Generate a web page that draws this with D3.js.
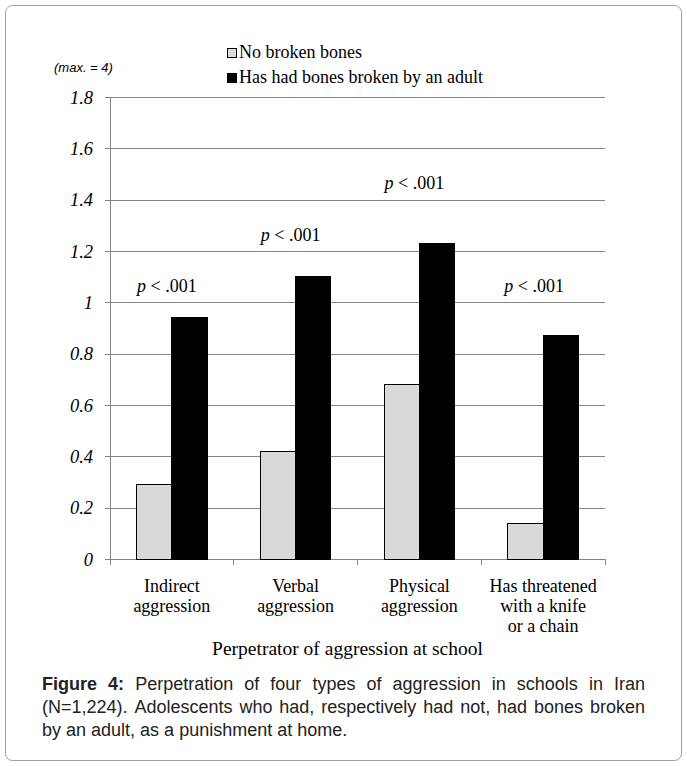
<!DOCTYPE html>
<html>
<head>
<meta charset="utf-8">
<script src="https://cdn.jsdelivr.net/npm/d3@7"></script>
<style>
  html, body { margin: 0; padding: 0; background: #fff; }
  svg { display: block; }
</style>
</head>
<body>
<svg id="chart" width="687" height="766"></svg>
<script>
// ---- data ----
const categories = [
  ["Indirect", "aggression"],
  ["Verbal", "aggression"],
  ["Physical", "aggression"],
  ["Has threatened", "with a knife", "or a chain"]
];
const seriesNames = ["No broken bones", "Has had bones broken by an adult"];
const noBroken = [0.29, 0.42, 0.68, 0.14];
const broken = [0.94, 1.10, 1.23, 0.87];
const yTicks = [0, 0.2, 0.4, 0.6, 0.8, 1, 1.2, 1.4, 1.6, 1.8];
const yTickLabels = ["0", "0.2", "0.4", "0.6", "0.8", "1", "1.2", "1.4", "1.6", "1.8"];
const pLabels = ["p < .001", "p < .001", "p < .001", "p < .001"];
const pLabelLevel = [1.04, 1.24, 1.44, 1.04];
const xTitle = "Perpetrator of aggression at school";
const yNote = "(max. = 4)";
const captionBold = "Figure 4:";
const captionText = "Perpetration of four types of aggression in schools in Iran (N=1,224). Adolescents who had, respectively had not, had bones broken by an adult, as a punishment at home.";

// ---- layout ----
const svg = d3.select("#chart");
const W = 687, H = 766;
const plot = { left: 110, right: 605, top: 97, bottom: 559 };
const serif = "'Liberation Serif', 'Times New Roman', serif";
const sans = "'Liberation Sans', Arial, sans-serif";
const gridColor = "#868686";

// outer frame
svg.append("rect")
  .attr("x", 5.5).attr("y", 5.5)
  .attr("width", 676).attr("height", 755)
  .attr("rx", 7).attr("ry", 7)
  .attr("fill", "#fff").attr("stroke", "#a0a0a0").attr("stroke-width", 1);

const x = d3.scaleBand().domain(d3.range(categories.length))
  .range([plot.left, plot.right]).paddingInner(0).paddingOuter(0);
const y = d3.scaleLinear().domain([0, 1.8]).range([plot.bottom, plot.top]);
const barW = 35.3;

// gridlines + y axis ticks
const yAxis = d3.axisLeft(y).tickValues(yTicks)
  .tickSize(-(plot.right - plot.left))
  .tickFormat((d, i) => yTickLabels[i]);
const gy = svg.append("g").attr("transform", `translate(${plot.left},0)`).call(yAxis);
gy.select(".domain").remove();
gy.selectAll(".tick line")
  .attr("x1", -5)
  .attr("stroke", gridColor).attr("stroke-width", 1)
  .attr("shape-rendering", "crispEdges");
gy.selectAll(".tick text")
  .attr("x", -17)
  .attr("dy", "0.34em")
  .attr("font-family", serif).attr("font-style", "italic")
  .attr("font-size", 18.5).attr("fill", "#000");

// y axis line
svg.append("line")
  .attr("x1", plot.left).attr("x2", plot.left)
  .attr("y1", plot.top).attr("y2", plot.bottom + 6)
  .attr("stroke", gridColor).attr("shape-rendering", "crispEdges");

// category boundary ticks
svg.append("g").selectAll("line")
  .data(d3.range(categories.length + 1))
  .join("line")
  .attr("x1", i => plot.left + i * x.bandwidth())
  .attr("x2", i => plot.left + i * x.bandwidth())
  .attr("y1", plot.bottom).attr("y2", plot.bottom + 6)
  .attr("stroke", gridColor).attr("shape-rendering", "crispEdges");

// bars
const cx = i => x(i) + x.bandwidth() / 2;
svg.append("g").selectAll("rect")
  .data(noBroken)
  .join("rect")
  .attr("x", (d, i) => cx(i) - barW)
  .attr("y", d => y(d))
  .attr("width", barW)
  .attr("height", d => y(0) - y(d))
  .attr("fill", "#d9d9d9").attr("stroke", "#000").attr("stroke-width", 1)
  .attr("shape-rendering", "crispEdges");
svg.append("g").selectAll("rect")
  .data(broken)
  .join("rect")
  .attr("x", (d, i) => cx(i))
  .attr("y", d => y(d))
  .attr("width", barW)
  .attr("height", d => y(0) - y(d))
  .attr("fill", "#000").attr("stroke", "#000").attr("stroke-width", 1)
  .attr("shape-rendering", "crispEdges");

// p labels
const pOff = [-5, -5, -5, -9];
pLabels.forEach((lab, i) => {
  const t = svg.append("text")
    .attr("x", cx(i) + pOff[i]).attr("y", y(pLabelLevel[i]))
    .attr("text-anchor", "middle")
    .attr("font-family", serif).attr("font-size", 18).attr("fill", "#000");
  t.append("tspan").attr("font-style", "italic").text(lab.slice(0, 1));
  t.append("tspan").text(lab.slice(1));
});

// category labels
categories.forEach((lines, i) => {
  const t = svg.append("text")
    .attr("text-anchor", "middle")
    .attr("font-family", serif).attr("font-size", 18).attr("fill", "#000");
  lines.forEach((ln, j) => {
    t.append("tspan").attr("x", cx(i)).attr("y", 592 + j * 20).text(ln);
  });
});

// x title
svg.append("text")
  .attr("x", 347.5).attr("y", 655)
  .attr("text-anchor", "middle")
  .attr("font-family", serif).attr("font-size", 19.5).attr("fill", "#000")
  .text(xTitle);

// y note
svg.append("text")
  .attr("x", 54).attr("y", 72)
  .attr("font-family", sans).attr("font-style", "italic")
  .attr("font-size", 13).attr("fill", "#000")
  .text(yNote);

// legend
const legendColors = ["#d9d9d9", "#000"];
seriesNames.forEach((name, i) => {
  const ly = 48 + i * 25;
  svg.append("rect")
    .attr("x", 227.5).attr("y", ly + 0.5)
    .attr("width", 9).attr("height", 9)
    .attr("fill", legendColors[i]).attr("stroke", "#000").attr("stroke-width", 1)
    .attr("shape-rendering", "crispEdges");
  svg.append("text")
    .attr("x", 239).attr("y", ly + 10)
    .attr("font-family", serif).attr("font-size", 18).attr("fill", "#000")
    .text(name);
});

// caption, justified
const capLeft = 42, capRight = 645, capFont = 18, capLine = 23, capTop = 690;
const words = [];
captionBold.split(" ").forEach(w => words.push({ w, bold: true }));
captionText.split(" ").forEach(w => words.push({ w, bold: false }));
const capG = svg.append("g");
const measure = capG.append("text").attr("font-family", sans).attr("font-size", capFont);
function wWidth(o) {
  measure.attr("font-weight", o.bold ? "bold" : "normal").text(o.w);
  return measure.node().getComputedTextLength();
}
const spaceW = (() => { measure.attr("font-weight", "normal").text("a a"); const a = measure.node().getComputedTextLength(); measure.text("aa"); return a - measure.node().getComputedTextLength(); })();
words.forEach(o => o.width = wWidth(o));
measure.remove();
const lines = [words.slice(0, 12), words.slice(12, 22), words.slice(22)];
lines.forEach((ln, li) => {
  const total = d3.sum(ln, o => o.width);
  const last = li === lines.length - 1;
  const gap = (!last && ln.length > 1) ? (capRight - capLeft - total) / (ln.length - 1) : spaceW;
  let xx = capLeft;
  ln.forEach(o => {
    capG.append("text")
      .attr("x", xx).attr("y", capTop + li * capLine)
      .attr("font-family", sans).attr("font-size", capFont)
      .attr("font-weight", o.bold ? "bold" : "normal")
      .attr("fill", "#222")
      .text(o.w);
    xx += o.width + gap;
  });
});
</script>
</body>
</html>
